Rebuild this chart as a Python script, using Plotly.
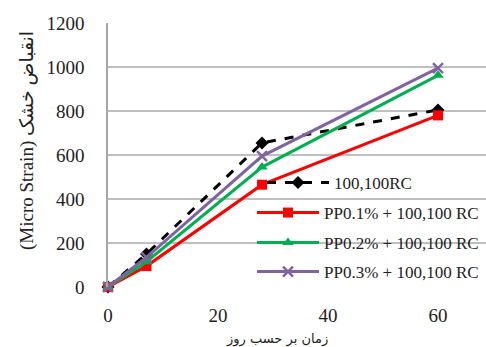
import plotly.graph_objects as go

days = [0, 7, 28, 60]
rc = [0, 150, 655, 805]
pp01 = [0, 95, 465, 780]
pp02 = [0, 115, 545, 962]
pp03 = [0, 135, 595, 995]

names = ["100,100RC", "PP0.1% + 100,100 RC", "PP0.2% + 100,100 RC", "PP0.3% + 100,100 RC"]
series = [rc, pp01, pp02, pp03]
colors = ["#000000", "#ff0000", "#00b050", "#8064a2"]
symbols = ["diamond", "square", "triangle-up", "x-thin-open"]
dashes = ["dash", "solid", "solid", "solid"]
legends = ["legend", "legend2", "legend3", "legend4"]

fig = go.Figure()
for name, ys, c, s, d, lg in zip(names, series, colors, symbols, dashes, legends):
    marker = dict(color=c, size=10, symbol=s)
    if s == "x-thin-open":
        marker = dict(color=c, size=10, symbol=s, line=dict(color=c, width=2.5))
    fig.add_trace(go.Scatter(x=days, y=ys, name=name, mode="lines+markers",
                             line=dict(color=c, width=3, dash=d),
                             marker=marker, legend=lg, cliponaxis=False))

W, H = 486, 347
L, T, B = 108, 23, 60
pw, ph = W - L, H - T - B

def px_x(p):
    return (p - L) / pw

def px_y(p):
    return (H - B - p) / ph

legfont = dict(family="Liberation Serif", size=17, color="#222")
leg_y = [183, 213, 243, 272]
leg_x = [262, 252, 252, 252]
layout_legs = {}
for lg, yy, xx in zip(legends, leg_y, leg_x):
    layout_legs[lg] = dict(x=px_x(xx), y=px_y(yy), xanchor="left", yanchor="middle",
                           bgcolor="rgba(0,0,0,0)", font=legfont, itemwidth=62)

fig.update_layout(
    width=W, height=H,
    margin=dict(l=L, r=0, t=T, b=B),
    paper_bgcolor="white", plot_bgcolor="white",
    showlegend=True,
    font=dict(family="Liberation Serif", size=19, color="#222"),
    xaxis=dict(range=[0, (W - L) / 5.5], tickvals=[0, 20, 40, 60], showgrid=False,
               zeroline=False, showline=False, ticks="", ticklabelstandoff=15,
               tickfont=dict(size=19)),
    yaxis=dict(range=[0, 1200], dtick=200, showgrid=True, gridcolor="#bfbfbf", gridwidth=1.5,
               zeroline=False, showline=True, linecolor="#a6a6a6", linewidth=1.5,
               ticks="", ticklabelstandoff=18, tickfont=dict(size=19)),
    annotations=[
        dict(text="زمان بر حسب روز", x=px_x(277), y=px_y(339), xref="paper", yref="paper",
             showarrow=False, font=dict(family="DejaVu Serif, DejaVu Sans", size=13, color="#222"),
             xanchor="center", yanchor="middle"),
        dict(text="(Micro Strain) انقباض خشک", x=px_x(27), y=px_y(141), xref="paper", yref="paper",
             showarrow=False, textangle=-90,
             font=dict(family="Liberation Serif, DejaVu Sans", size=19, color="#222"),
             xanchor="center", yanchor="middle"),
    ],
    **layout_legs,
)

fig.write_html("out.html")
